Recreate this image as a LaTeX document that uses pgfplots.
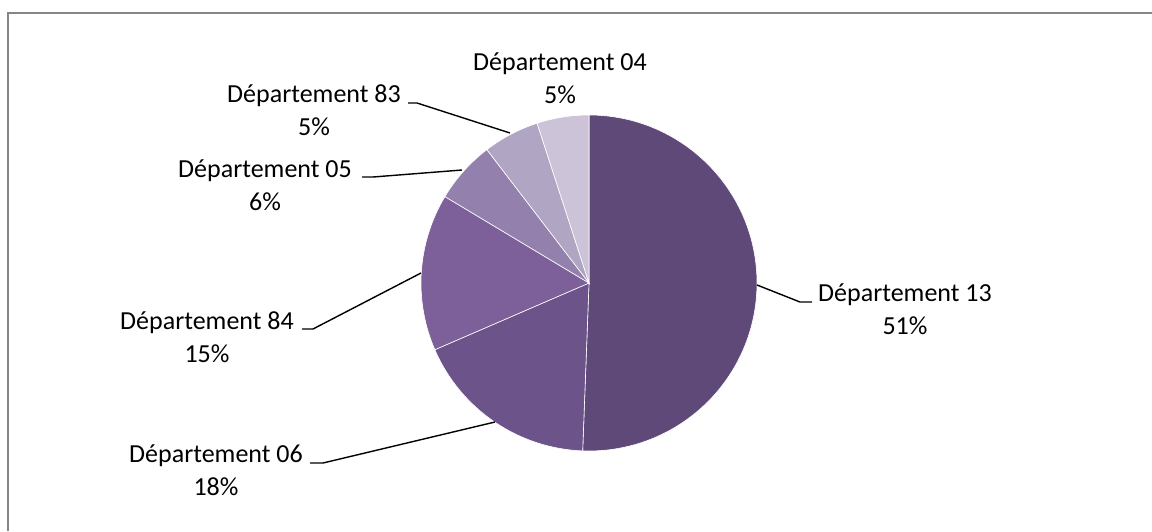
\documentclass[border=0pt]{standalone}
\usepackage{pgfplots}
\pgfplotsset{compat=1.18}
\usepackage{pgfplotstable}
\usepackage{fontspec}
\setmainfont{Carlito}

% shares of each departement, clockwise from 12 o'clock
\pgfplotstableread{
dep share
13 50.6
06 17.9
84 15.1
05 6.0
83 5.4
04 5.0
}\piedata

\definecolor{pie0}{HTML}{5E4978}
\definecolor{pie1}{HTML}{6C548A}
\definecolor{pie2}{HTML}{7D5F99}
\definecolor{pie3}{HTML}{9380AC}
\definecolor{pie4}{HTML}{B0A6C4}
\definecolor{pie5}{HTML}{CCC3D8}
\definecolor{framegray}{HTML}{868686}

\begin{document}
\begin{tikzpicture}
\begin{axis}[name=ax,
  scale only axis, width=576pt, height=265.5pt,
  xmin=0, xmax=1152, ymin=0, ymax=531, y dir=reverse,
  hide axis, clip=false]
% frame (only top and left edges visible)
\draw[framegray, line width=0.7pt] (axis cs:8,531) -- (axis cs:8,13) -- (axis cs:1152,13);
% slices
\pgfplotstablegetrowsof{\piedata}
\pgfmathtruncatemacro\lastrow{\pgfplotsretval-1}
\def\cum{0}
\pgfplotsforeachungrouped \i in {0,...,\lastrow}{
  \pgfplotstablegetelem{\i}{share}\of\piedata
  \let\share\pgfplotsretval
  \pgfmathsetmacro\a{90-3.6*\cum}
  \pgfmathsetmacro\b{90-3.6*(\cum+\share)}
  \pgfmathsetmacro\cum{\cum+\share}
  \edef\slice{\noexpand\fill[pie\i, draw=white, line width=0.3pt]
    (axis cs:589,283) -- ([shift={(\a:84pt)}]axis cs:589,283)
    arc[start angle=\a, end angle=\b, radius=84pt] -- cycle;}
  \slice
}
% leader lines
\tikzset{lead/.style={black, line width=0.7pt}}
\draw[lead] (axis cs:757,285) -- (axis cs:800,302) -- (axis cs:812,302);
\draw[lead] (axis cs:495,422) -- (axis cs:323,463) -- (axis cs:310,463);
\draw[lead] (axis cs:421,273) -- (axis cs:313,329) -- (axis cs:302,329);
\draw[lead] (axis cs:462,170) -- (axis cs:373,177) -- (axis cs:362,177);
\draw[lead] (axis cs:510,133) -- (axis cs:417,103) -- (axis cs:408,103);
% labels (anchored at the baseline of the second line)
\tikzset{lbl/.style={anchor=base, align=center, inner sep=0pt,
  font=\fontsize{13}{16.25}\selectfont}}
\node[lbl] at (axis cs:905,334) {Département 13\\51\%};
\node[lbl] at (axis cs:216,495) {Département 06\\18\%};
\node[lbl] at (axis cs:207,362) {Département 84\\15\%};
\node[lbl] at (axis cs:265,210) {Département 05\\6\%};
\node[lbl] at (axis cs:314,135) {Département 83\\5\%};
\node[lbl] at (axis cs:560,103) {Département 04\\5\%};
\end{axis}
\pgfresetboundingbox
\path (ax.south west) rectangle (ax.north east);
\end{tikzpicture}
\end{document}
